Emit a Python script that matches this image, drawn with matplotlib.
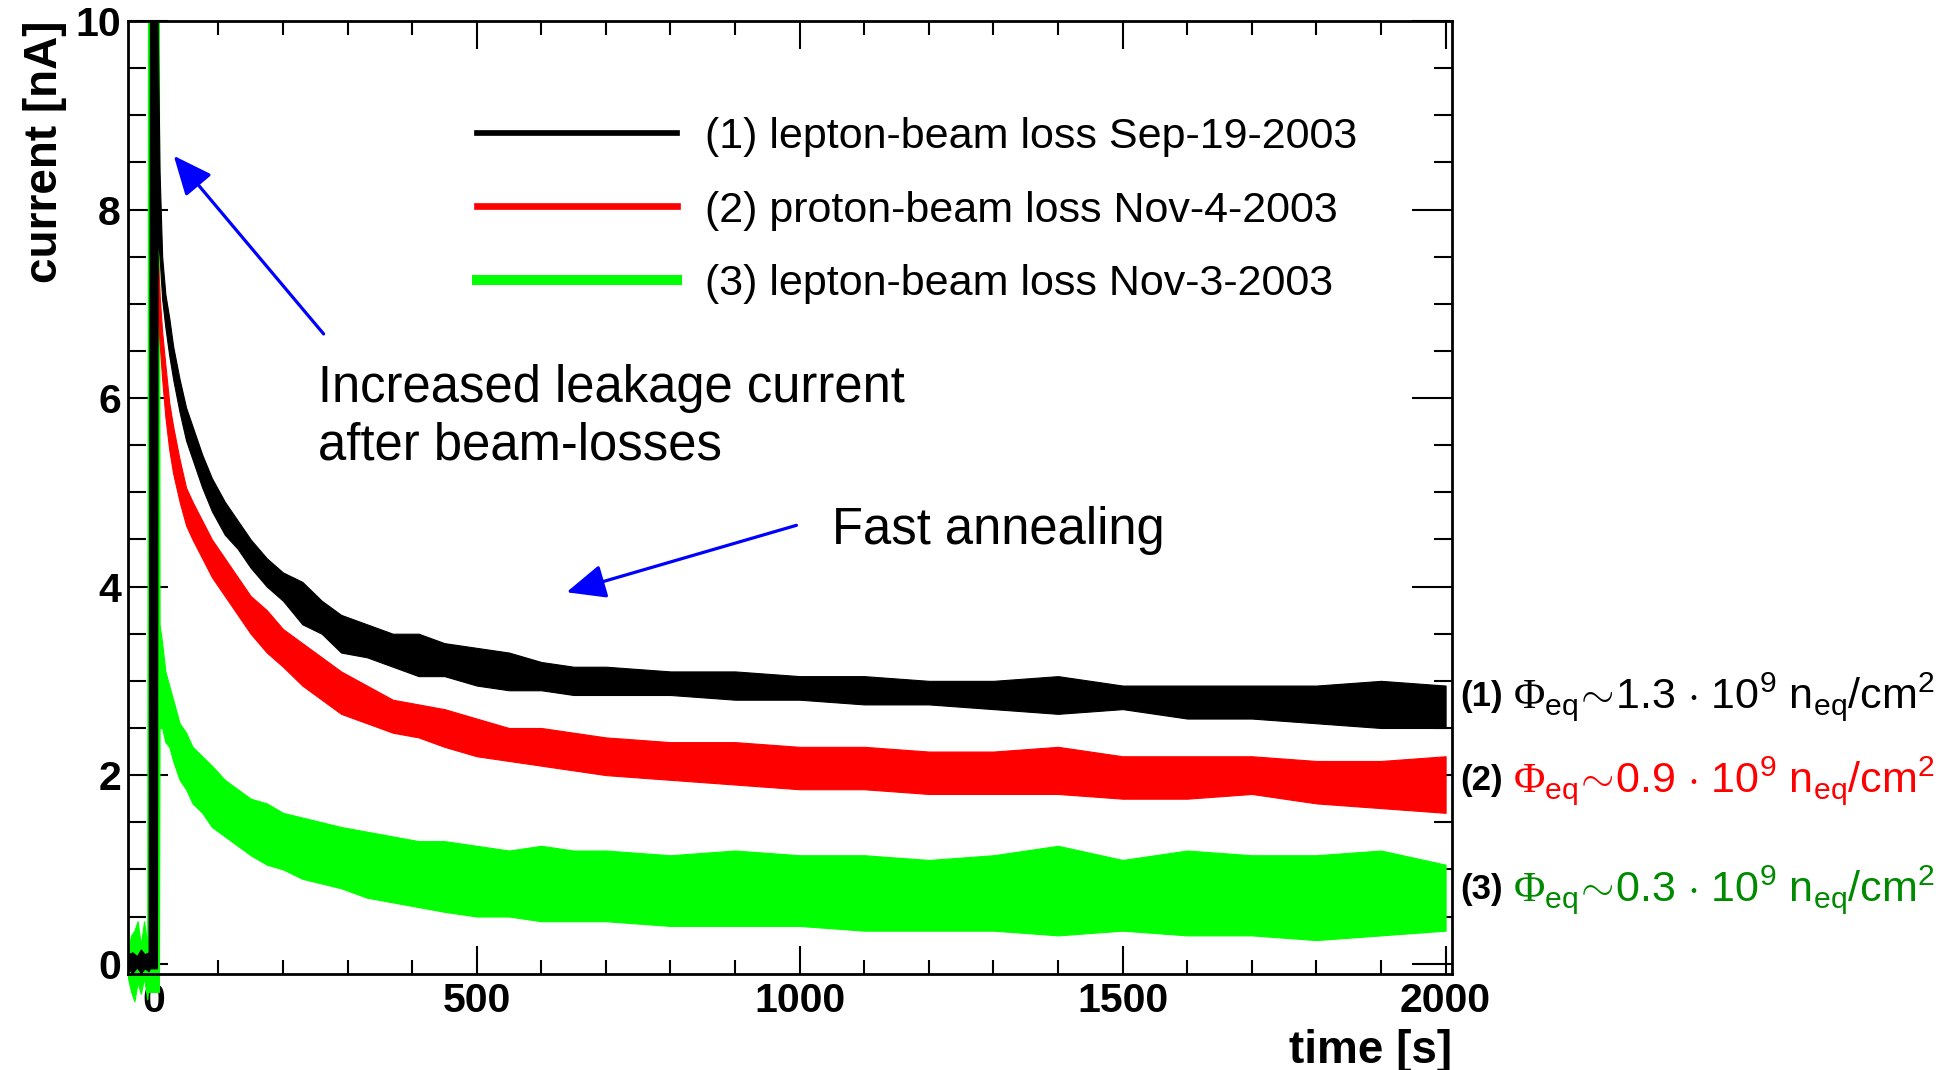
import matplotlib
matplotlib.use("Agg")
import matplotlib.pyplot as plt
from matplotlib.lines import Line2D
from matplotlib.ticker import MultipleLocator

plt.rcParams["font.family"] = ["Liberation Sans", "DejaVu Sans"]
plt.rcParams["mathtext.fontset"] = "custom"
plt.rcParams["mathtext.rm"] = "Liberation Sans"
plt.rcParams["mathtext.it"] = "Liberation Sans"
plt.rcParams["mathtext.bf"] = "Liberation Sans:bold"
plt.rcParams["mathtext.sf"] = "Liberation Serif"  # used only for the Phi glyph

# (1) lepton-beam loss Sep-19-2003 : time [s], lower / upper edge of the noisy band [nA]
T1 = [-40, -33, -26, -20, -14, -8, -6, 5, 6, 9, 13, 18, 24, 30, 40, 50, 60, 75, 90, 110, 130,
      150, 175, 200, 230, 260, 290, 330, 370, 410, 450, 500, 550, 600, 650, 700, 800, 900,
      1000, 1100, 1200, 1300, 1400, 1500, 1600, 1700, 1800, 1900, 2000]
LO1 = [-0.05, -0.10, -0.04, -0.10, -0.05, -0.08, -0.05, -0.05, 7.70, 7.50, 7.05, 6.75, 6.45,
       6.20, 5.85, 5.55, 5.35, 5.05, 4.80, 4.55, 4.40, 4.20, 4.00, 3.85, 3.60, 3.50, 3.30,
       3.25, 3.15, 3.05, 3.05, 2.95, 2.90, 2.90, 2.85, 2.85, 2.85, 2.80, 2.80, 2.75, 2.75,
       2.70, 2.65, 2.70, 2.60, 2.60, 2.55, 2.50, 2.50]
HI1 = [0.10, 0.12, 0.08, 0.15, 0.10, 0.12, 10.0, 10.0, 10.0, 8.40, 7.50, 7.10, 6.85, 6.55,
       6.20, 5.90, 5.70, 5.40, 5.15, 4.90, 4.70, 4.50, 4.30, 4.15, 4.05, 3.85, 3.70, 3.60,
       3.50, 3.50, 3.40, 3.35, 3.30, 3.20, 3.15, 3.15, 3.10, 3.10, 3.05, 3.05, 3.00, 3.00,
       3.05, 2.95, 2.95, 2.95, 2.95, 3.00, 2.95]

# (2) proton-beam loss Nov-4-2003
T2 = [6, 9, 13, 18, 24, 30, 40, 50, 60, 75, 90, 110, 130, 150, 175, 200, 230, 260, 290, 330,
      370, 410, 450, 500, 550, 600, 650, 700, 800, 900, 1000, 1100, 1200, 1300, 1400, 1500,
      1600, 1700, 1800, 1900, 2000]
LO2 = [6.90, 6.60, 6.20, 5.80, 5.45, 5.20, 4.90, 4.65, 4.50, 4.30, 4.10, 3.90, 3.70, 3.50,
       3.30, 3.15, 2.95, 2.80, 2.65, 2.55, 2.45, 2.40, 2.30, 2.20, 2.15, 2.10, 2.05, 2.00,
       1.95, 1.90, 1.85, 1.85, 1.80, 1.80, 1.80, 1.75, 1.75, 1.80, 1.70, 1.65, 1.60]
HI2 = [7.50, 7.10, 6.70, 6.35, 5.95, 5.70, 5.35, 5.05, 4.90, 4.70, 4.50, 4.30, 4.10, 3.90,
       3.75, 3.55, 3.40, 3.25, 3.10, 2.95, 2.80, 2.75, 2.70, 2.60, 2.50, 2.50, 2.45, 2.40,
       2.35, 2.35, 2.30, 2.30, 2.25, 2.25, 2.30, 2.20, 2.20, 2.20, 2.15, 2.15, 2.20]

# (3) lepton-beam loss Nov-3-2003
T3 = [-40, -35, -30, -25, -20, -15, -10, -9, 8, 9, 13, 18, 24, 30, 40, 50, 60, 75, 90, 110,
      130, 150, 175, 200, 230, 260, 290, 330, 370, 410, 450, 500, 550, 600, 650, 700, 800,
      900, 1000, 1100, 1200, 1300, 1400, 1500, 1600, 1700, 1800, 1900, 2000]
LO3 = [-0.15, -0.30, -0.40, -0.20, -0.32, -0.15, -0.38, -0.30, -0.30, 2.50, 2.50, 2.35, 2.30,
       2.15, 1.95, 1.85, 1.70, 1.60, 1.45, 1.35, 1.25, 1.15, 1.05, 1.00, 0.90, 0.85, 0.80,
       0.70, 0.65, 0.60, 0.55, 0.50, 0.50, 0.45, 0.45, 0.45, 0.40, 0.40, 0.40, 0.35, 0.35,
       0.35, 0.30, 0.35, 0.30, 0.30, 0.25, 0.30, 0.35]
HI3 = [0.15, 0.30, 0.35, 0.45, 0.20, 0.45, 0.20, 10.0, 10.0, 3.60, 3.40, 3.10, 2.95, 2.80,
       2.55, 2.45, 2.30, 2.20, 2.10, 1.95, 1.85, 1.75, 1.70, 1.60, 1.55, 1.50, 1.45, 1.40,
       1.35, 1.30, 1.30, 1.25, 1.20, 1.25, 1.20, 1.20, 1.15, 1.20, 1.15, 1.15, 1.10, 1.15,
       1.25, 1.10, 1.20, 1.15, 1.15, 1.20, 1.05]

LEGEND_LABELS = ["(1) lepton-beam loss Sep-19-2003",
                 "(2) proton-beam loss Nov-4-2003",
                 "(3) lepton-beam loss Nov-3-2003"]
CURVE_COLORS = ["#000000", "#ff0000", "#00ff00"]
TEXT_COLORS = ["#000000", "#ff0000", "#008a00"]
FLUENCE = ["1.3", "0.9", "0.3"]
FLUENCE_Y = [2.83, 1.94, 0.79]

X_TICKS = [0, 500, 1000, 1500, 2000]
Y_TICKS = [0, 2, 4, 6, 8, 10]

fig = plt.figure(figsize=(19.53, 10.70), dpi=100)
ax = fig.add_axes([0.0655, 0.0897, 0.678, 0.8907])

ax.fill_between(T3, LO3, HI3, color=CURVE_COLORS[2], lw=0.8, clip_on=False, zorder=2)
ax.fill_between(T2, LO2, HI2, color=CURVE_COLORS[1], lw=0.8, zorder=3)
ax.fill_between(T1, LO1, HI1, color=CURVE_COLORS[0], lw=0.8, zorder=4)

ax.set_xlim(-40, 2010)
ax.set_ylim(-0.11, 10)

ax.set_xticks(X_TICKS, labels=[str(v) for v in X_TICKS], fontweight="bold", fontsize=29.5)
ax.set_yticks(Y_TICKS, labels=[str(v) for v in Y_TICKS], fontweight="bold", fontsize=29.5)
ax.xaxis.set_minor_locator(MultipleLocator(100))
ax.yaxis.set_minor_locator(MultipleLocator(0.5))
ax.tick_params(which="both", direction="in", top=True, right=True, width=1.5)
ax.tick_params(axis="y", which="major", length=29, pad=5)
ax.tick_params(axis="y", which="minor", length=13)
ax.tick_params(axis="x", which="major", length=20, pad=6)
ax.tick_params(axis="x", which="minor", length=10)
for s in ax.spines.values():
    s.set_linewidth(2)

ax.set_xlabel("time [s]", fontsize=33, fontweight="bold", loc="right", labelpad=6.5)
ax.set_ylabel("current [nA]", fontsize=33, fontweight="bold", loc="top", labelpad=6)

handles = [Line2D([], [], color=c, lw=w) for c, w in zip(CURVE_COLORS, [4.1, 4.8, 7.2])]
ax.legend(handles, LEGEND_LABELS, loc="upper left", bbox_to_anchor=(0.2636, 0.8993),
          frameon=False, fontsize=31, handlelength=4.65, handletextpad=0.65,
          labelspacing=0.78, borderpad=0, borderaxespad=0)

arrow = dict(arrowstyle="-|>,head_length=0.8,head_width=0.35", color="#0000ff", lw=2.3,
             mutation_scale=30, shrinkA=0, shrinkB=0)
ax.annotate("", xy=(31, 8.57), xytext=(263, 6.68), arrowprops=arrow)
ax.annotate("", xy=(639, 3.94), xytext=(995, 4.65), arrowprops=arrow)
ax.text(255, 5.8, "Increased leakage current\nafter beam-losses", fontsize=36.5,
        va="center", ha="left", linespacing=1.22)
ax.text(1050, 4.59, "Fast annealing", fontsize=36.5, va="center", ha="left")

for i in range(3):
    ax.text(2023, FLUENCE_Y[i], f"({i + 1})", fontsize=25, fontweight="bold",
            va="center", ha="left", clip_on=False)
    ax.text(2104, FLUENCE_Y[i],
            r"$\mathsf{\Phi}_{\rm eq}\!\sim\!$" + FLUENCE[i]
            + r" $\cdot$ 10$^{9}$ n$_{\rm eq}$/cm$^{2}$",
            fontsize=31, color=TEXT_COLORS[i], va="center", ha="left", clip_on=False)

fig.savefig("out.png", dpi=100)
